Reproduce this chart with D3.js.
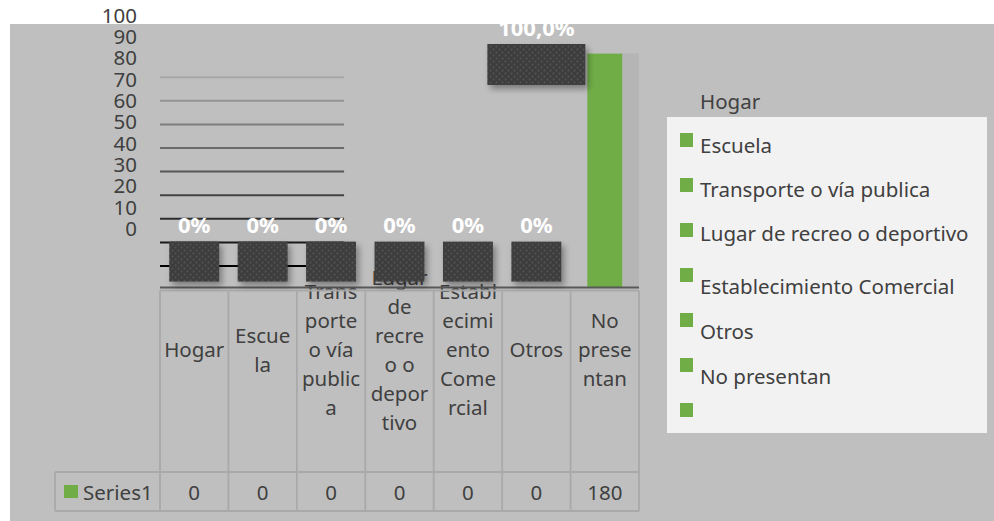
<!DOCTYPE html>
<html>
<head>
<meta charset="utf-8">
<script src="https://cdn.jsdelivr.net/npm/d3@7/dist/d3.min.js"></script>
<style>
  html, body { margin: 0; padding: 0; background: #ffffff; }
  svg { display: block; }
  text { font-family: "Noto Sans", "Open Sans", sans-serif; }
</style>
</head>
<body>
<svg id="chart" width="994" height="521"></svg>
<script>
// ---------- data ----------
const categories = ["Hogar", "Escuela", "Transporte o vía publica", "Lugar de recreo o deportivo",
                    "Establecimiento Comercial", "Otros", "No presentan"];
const values = [0, 0, 0, 0, 0, 0, 180];
const percentValues = [0, 0, 0, 0, 0, 0, 100];
const dataLabels = ["0%", "0%", "0%", "0%", "0%", "0%", "100,0%"];
const headerLines = [["Hogar"], ["Escue", "la"], ["Trans", "porte", "o vía", "public", "a"],
                     ["Lugar", "de", "recre", "o o", "depor", "tivo"],
                     ["Establ", "ecimi", "ento", "Come", "rcial"], ["Otros"], ["No", "prese", "ntan"]];
const seriesName = "Series1";
const yTickLabels = [0, 10, 20, 30, 40, 50, 60, 70, 80, 90, 100];
const gridValues = [10, 20, 30, 40, 50, 60, 70, 80, 90];
const legendLabels = ["Hogar", "Escuela", "Transporte o vía publica", "Lugar de recreo o deportivo",
                      "Establecimiento Comercial", "Otros", "No presentan"];

// ---------- setup ----------
const svg = d3.select("#chart");
const green = "#70ad47";
const textCol = "#404040";
const fs = 20.5;

const defs = svg.append("defs");
const pat = defs.append("pattern").attr("id", "dots").attr("patternUnits", "userSpaceOnUse")
  .attr("width", 6).attr("height", 6);
pat.append("rect").attr("width", 6).attr("height", 6).attr("fill", "#3d3d3d");
pat.append("circle").attr("cx", 1.5).attr("cy", 1.5).attr("r", 0.9).attr("fill", "#555555");
pat.append("circle").attr("cx", 4.5).attr("cy", 4.5).attr("r", 0.9).attr("fill", "#555555");
const f = defs.append("filter").attr("id", "shadow").attr("x", "-20%").attr("y", "-20%")
  .attr("width", "160%").attr("height", "170%");
f.append("feDropShadow").attr("dx", 3).attr("dy", 4).attr("stdDeviation", 3)
  .attr("flood-color", "#000").attr("flood-opacity", 0.35);
defs.append("clipPath").attr("id", "areaClip").append("rect")
  .attr("x", 10).attr("y", 24).attr("width", 984).attr("height", 497);

// chart area background
svg.append("rect").attr("x", 10).attr("y", 24).attr("width", 984).attr("height", 497).attr("fill", "#bfbfbf");

const x = d3.scaleBand().domain(categories).range([160, 639]).padding(0);
const y = d3.scaleLinear().domain([0, 100]).range([289.6, 53.6]);
const yLab = d3.scaleLinear().domain([0, 100]).range([236, 22.7]);
const gridColor = d3.scaleLinear().domain([10, 20, 90]).range(["#000000", "#1a1a1a", "#a8a8a8"]);
const bw = x.bandwidth();

// gridlines
svg.append("g").selectAll("line").data(gridValues).join("line")
  .attr("x1", x.range()[0]).attr("x2", x.range()[0] + bw * 2.69)
  .attr("y1", d => y(d)).attr("y2", d => y(d))
  .attr("stroke", d => gridColor(d)).attr("stroke-width", 2);

// y axis labels
svg.append("g").selectAll("text").data(yTickLabels).join("text")
  .attr("x", 137).attr("y", d => yLab(d)).attr("text-anchor", "end")
  .attr("font-size", 20.5).attr("fill", textCol).text(d => d);

// ---------- data table ----------
const tableTop = 290.5, headerBottom = 472, rowBottom = 511, tableLeft = 55;
const tbl = svg.append("g");
const lineCol = "#a9a9a9";
categories.forEach((c, i) => {
  const lines = headerLines[i];
  const cx = x(c) + bw / 2;
  lines.forEach((ln, j) => {
    tbl.append("text").attr("x", cx).attr("y", 357 + (j - (lines.length - 1) / 2) * 29)
      .attr("text-anchor", "middle").attr("font-size", fs).attr("fill", textCol).text(ln);
  });
  tbl.append("text").attr("x", cx).attr("y", 500).attr("text-anchor", "middle")
    .attr("font-size", fs).attr("fill", textCol).text(values[i]);
});
const bounds = categories.map(c => x(c)).concat([x.range()[1]]);
tbl.selectAll("line.v").data(bounds).join("line").attr("class", "v")
  .attr("x1", d => d).attr("x2", d => d).attr("y1", tableTop).attr("y2", rowBottom)
  .attr("stroke", lineCol).attr("stroke-width", 1.8);
tbl.append("line").attr("x1", x.range()[0]).attr("x2", x.range()[1]).attr("y1", tableTop).attr("y2", tableTop)
  .attr("stroke", lineCol).attr("stroke-width", 1.8);
tbl.append("line").attr("x1", tableLeft).attr("x2", x.range()[1]).attr("y1", headerBottom).attr("y2", headerBottom)
  .attr("stroke", lineCol).attr("stroke-width", 1.8);
tbl.append("line").attr("x1", tableLeft).attr("x2", x.range()[1]).attr("y1", rowBottom).attr("y2", rowBottom)
  .attr("stroke", lineCol).attr("stroke-width", 1.8);
tbl.append("line").attr("x1", tableLeft).attr("x2", tableLeft).attr("y1", headerBottom).attr("y2", rowBottom)
  .attr("stroke", lineCol).attr("stroke-width", 1.8);
tbl.append("rect").attr("x", 64).attr("y", 485).attr("width", 14).attr("height", 13).attr("fill", green);
tbl.append("text").attr("x", 83).attr("y", 500).attr("font-size", fs).attr("fill", textCol).text(seriesName);

// ---------- bars ----------
const barW = bw * 0.51;
const bars = svg.append("g");
categories.forEach((c, i) => {
  if (percentValues[i] > 0) {
    const cx = x(c) + bw / 2;
    bars.append("rect").attr("x", cx + barW / 2).attr("y", y(percentValues[i]))
      .attr("width", x(c) + bw - (cx + barW / 2)).attr("height", y(0) - 2 - y(percentValues[i]))
      .attr("fill", "#b5b5b5");
    bars.append("rect").attr("x", cx - barW / 2).attr("y", y(percentValues[i]))
      .attr("width", barW).attr("height", y(0) - 2 - y(percentValues[i])).attr("fill", green);
  }
});

// axis line
svg.append("line").attr("x1", x.range()[0]).attr("x2", x.range()[1])
  .attr("y1", y(0) - 2).attr("y2", y(0) - 2).attr("stroke", "#595959").attr("stroke-width", 2);

// data label boxes and texts
const lab = svg.append("g").attr("clip-path", "url(#areaClip)");
categories.forEach((c, i) => {
  const v = percentValues[i];
  let cx = x(c) + bw / 2, boxW = bw * 0.73, boxTop, boxH = 40, textY;
  if (v > 0) {
    cx = cx - x.step();
    boxW = 98;
    boxTop = y(v) - 9.6;
    boxH = 41;
    textY = y(v) - 17.6;
  } else {
    boxTop = y(0) - 48;
    textY = y(0) - 56.5;
  }
  lab.append("rect").attr("x", cx - boxW / 2).attr("y", boxTop).attr("width", boxW).attr("height", boxH)
    .attr("fill", "url(#dots)").attr("filter", "url(#shadow)");
  lab.append("text").attr("x", cx).attr("y", textY).attr("text-anchor", "middle")
    .attr("font-size", 22).attr("font-weight", "bold").attr("fill", "#ffffff").text(dataLabels[i]);
});

// ---------- legend ----------
const leg = svg.append("g");
leg.append("rect").attr("x", 667).attr("y", 117).attr("width", 320).attr("height", 316).attr("fill", "#f2f2f2");
const sqTop = i => 133 + 45 * i;
legendLabels.forEach((l, i) => {
  leg.append("rect").attr("x", 680).attr("y", sqTop(i)).attr("width", 13).attr("height", 14).attr("fill", green);
  leg.append("text").attr("x", 700).attr("y", i < 4 ? sqTop(i) - 24 - i : sqTop(i - 1) + 26)
    .attr("font-size", fs).attr("fill", textCol).text(l);
});
</script>
</body>
</html>
